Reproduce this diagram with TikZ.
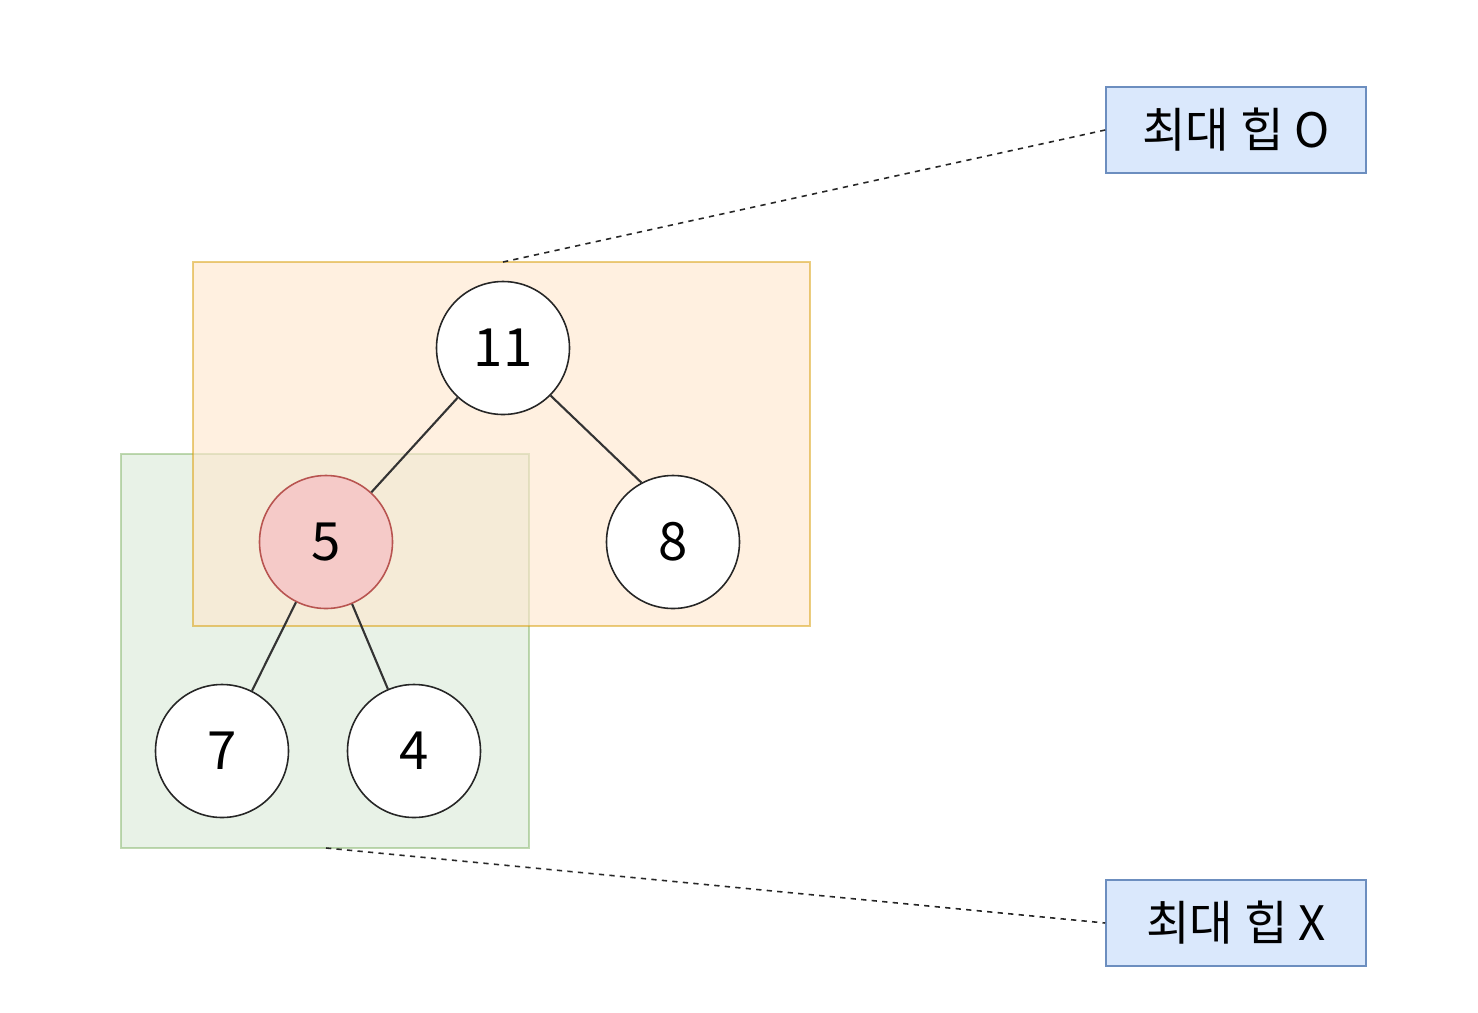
\documentclass[tikz,border=0pt]{standalone}
\usepackage{fontspec}
\setmainfont{Noto Sans CJK KR}
\begin{document}
\begin{tikzpicture}[x=0.02cm,y=-0.02cm,
  treenode/.style={circle,draw=black!85,line width=0.9pt,fill=white,minimum size=133*0.02cm,inner sep=0pt,font=\fontsize{30}{30}\selectfont},
  hotnode/.style={treenode,fill={rgb,255:red,245;green,202;blue,200},draw={rgb,255:red,184;green,84;blue,80}},
  labelbox/.style={draw={rgb,255:red,108;green,142;blue,191},line width=0.9pt,fill={rgb,255:red,218;green,232;blue,252},minimum width=260*0.02cm,minimum height=86*0.02cm,inner sep=0pt,font=\fontsize{27}{27}\selectfont},
  edge/.style={draw=black!80,line width=1.2pt},
  leader/.style={draw=black!85,dashed,line width=0.9pt}]
\useasboundingbox (0,0) rectangle (1478,1012);
\definecolor{orfill}{RGB}{255,230,204}
\definecolor{ordraw}{RGB}{215,155,0}
\definecolor{grfill}{RGB}{213,232,212}
\definecolor{grdraw}{RGB}{130,179,102}
\draw[fill=grfill,fill opacity=0.55,draw=grdraw,draw opacity=0.5,line width=0.9pt] (121,454) rectangle (529,848);
\draw[fill=orfill,fill opacity=0.6,draw=ordraw,draw opacity=0.5,line width=0.9pt] (193,262) rectangle (810,626);
\coordinate (topmid) at (503,262);
\coordinate (botmid) at (326,848);
\node[treenode] (n11) at (503,348) {11};
\node[hotnode] (n5) at (326,542) {5};
\node[treenode] (n8) at (673,542) {8};
\node[treenode] (n7) at (222,751) {7};
\node[treenode] (n4) at (414,751) {4};
\path[edge] (n11) -- (n5);
\path[edge] (n11.-45) -- (n8.118);
\path[edge] (n5) -- (n7);
\path[edge] (n5) -- (n4);
\node[labelbox] (ok) at (1236,130) {최대 힙 O};
\node[labelbox] (no) at (1236,923) {최대 힙 X};
\path[leader] (topmid) -- (ok.west);
\path[leader] (botmid) -- (no.west);
\end{tikzpicture}
\end{document}
